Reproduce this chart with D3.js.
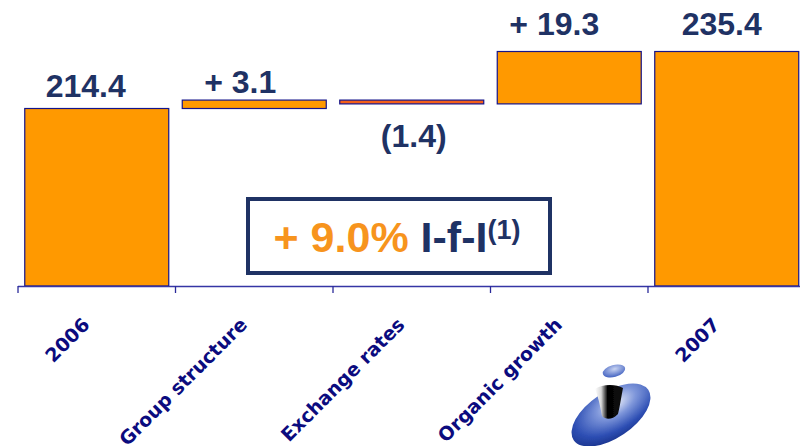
<!DOCTYPE html>
<html>
<head>
<meta charset="utf-8">
<script src="https://cdn.jsdelivr.net/npm/d3@7/dist/d3.min.js"></script>
<style>
  html, body { margin: 0; padding: 0; background: #ffffff; }
  svg { display: block; }
</style>
</head>
<body>
<svg id="chart" width="800" height="446"></svg>
<script>
// Revenue bridge 2006 -> 2007
const categories = ["2006", "Group structure", "Exchange rates", "Organic growth", "2007"];
const kinds      = ["total", "delta", "delta", "delta", "total"];
const values     = [214.4, 3.1, -1.4, 19.3, 235.4];
const valueLabels = ["214.4", "+ 3.1", "(1.4)", "+ 19.3", "235.4"];
const headline = { growth: "+ 9.0%", basis: "I-f-I", note: "(1)" };

// label placement tweaks (px) relative to each bar's centre / edge
const labelShiftX = [-11, -14, 2, -15, -5];
const labelGap    = [11.5, 7, 43, 16.5, 16.5];

const W = 800, H = 446;
const svg = d3.select("#chart");

const navy = "#1F3264";
const axisNavy = "#0B0B7E";
const orange = "#FF9900";
const negFill = "#F4601A";

// waterfall segments
let running = 0;
const segs = values.map((v, i) => {
  let lo, hi;
  if (kinds[i] === "total") { lo = null; hi = v; running = v; }
  else { const start = running; running = start + v; lo = Math.min(start, running); hi = Math.max(start, running); }
  return { cat: categories[i], v, lo, hi, kind: kinds[i], neg: v < 0, label: valueLabels[i], i };
});

const yMin = 149, yMax = 245;
const y = d3.scaleLinear().domain([yMin, yMax]).range([286, 286 - (yMax - yMin) * 2.714]);
const x = d3.scaleBand().domain(categories).range([18, 805.5])
  .paddingInner(0.0857).paddingOuter(0.0429);
const bw = x.bandwidth();
const gapHalf = (x.step() - bw) / 2;

// bars
svg.append("g").selectAll("rect").data(segs).join("rect")
  .attr("x", d => x(d.cat))
  .attr("width", bw)
  .attr("y", d => y(d.hi))
  .attr("height", d => (d.lo === null ? y.range()[0] : y(d.lo)) - y(d.hi))
  .attr("fill", d => d.neg ? negFill : orange)
  .attr("stroke", "#14148A")
  .attr("stroke-width", 1.2);

// category axis: baseline with ticks on band boundaries
const axisY = y.range()[0];
const bounds = categories.map(c => x(c) - gapHalf).concat([x(categories[categories.length - 1]) + bw + gapHalf]);
const ax = svg.append("g");
ax.append("line").attr("x1", bounds[0]).attr("x2", W).attr("y1", axisY + 0.5).attr("y2", axisY + 0.5)
  .attr("stroke", "#3535A5").attr("stroke-width", 1.3);
ax.selectAll("line.tick").data(bounds).join("line").attr("class", "tick")
  .attr("x1", d => d).attr("x2", d => d).attr("y1", axisY).attr("y2", axisY + 7)
  .attr("stroke", "#2A2A9A").attr("stroke-width", 1.3);

ax.selectAll("text").data(categories).join("text")
  .attr("transform", c => `translate(${x(c) + bw / 2 - 6},${axisY + 40}) rotate(-45)`)
  .attr("text-anchor", "end")
  .attr("font-family", "DejaVu Sans, Verdana, sans-serif")
  .attr("font-weight", "bold")
  .attr("font-size", 19)
  .attr("fill", axisNavy)
  .text(c => c);

// value labels
svg.append("g").selectAll("text").data(segs).join("text")
  .attr("x", d => x(d.cat) + bw / 2 + labelShiftX[d.i])
  .attr("y", d => d.neg ? y(d.lo) + labelGap[d.i] : y(d.hi) - labelGap[d.i])
  .attr("text-anchor", "middle")
  .attr("font-family", "Liberation Sans, Arial, sans-serif")
  .attr("font-weight", "bold")
  .attr("font-size", 32)
  .attr("fill", navy)
  .text(d => d.label);

// like-for-like growth callout
const box = svg.append("g");
box.append("rect").attr("x", 248).attr("y", 199).attr("width", 302).attr("height", 74)
  .attr("fill", "#ffffff").attr("stroke", navy).attr("stroke-width", 4);
const t = box.append("text").attr("x", 397).attr("y", 252).attr("text-anchor", "middle")
  .attr("font-family", "Liberation Sans, Arial, sans-serif").attr("font-weight", "bold").attr("font-size", 43);
t.append("tspan").attr("fill", "#F7941D").text(headline.growth + " ");
t.append("tspan").attr("fill", navy).text(headline.basis);
t.append("tspan").attr("fill", navy).attr("font-size", 27).attr("dy", -13).text(headline.note);

// corporate mark (stylised "i")
const defs = svg.append("defs");
const g1 = defs.append("radialGradient").attr("id", "disc").attr("cx", "62%").attr("cy", "35%").attr("r", "70%");
g1.append("stop").attr("offset", "0%").attr("stop-color", "#E4E9F8");
g1.append("stop").attr("offset", "35%").attr("stop-color", "#7E96DA");
g1.append("stop").attr("offset", "75%").attr("stop-color", "#2E4FB4");
g1.append("stop").attr("offset", "100%").attr("stop-color", "#1B3590");
const g2 = defs.append("radialGradient").attr("id", "dot").attr("cx", "55%").attr("cy", "35%").attr("r", "70%");
g2.append("stop").attr("offset", "0%").attr("stop-color", "#C9D4F2");
g2.append("stop").attr("offset", "100%").attr("stop-color", "#3A5BBE");
const g3 = defs.append("linearGradient").attr("id", "stem").attr("x1", "0").attr("x2", "1").attr("y1", "0").attr("y2", "0");
g3.append("stop").attr("offset", "0%").attr("stop-color", "#ffffff");
g3.append("stop").attr("offset", "22%").attr("stop-color", "#d8d8d8");
g3.append("stop").attr("offset", "45%").attr("stop-color", "#000000");
g3.append("stop").attr("offset", "100%").attr("stop-color", "#111111");
const filt = defs.append("filter").attr("id", "soft").attr("x", "-20%").attr("y", "-20%").attr("width", "140%").attr("height", "140%");
filt.append("feGaussianBlur").attr("stdDeviation", 0.6);

const logo = svg.append("g").attr("filter", "url(#soft)");
logo.append("ellipse").attr("cx", 611).attr("cy", 415).attr("rx", 45).attr("ry", 23)
  .attr("transform", "rotate(-34 611 415)").attr("fill", "url(#disc)");
logo.append("path")
  .attr("d", "M595,389 C602,384 616,384 623,388 C621,398 620,406 618,414 C612,420 606,420 602,416 C600,405 598,396 595,389 Z")
  .attr("fill", "url(#stem)");
logo.append("ellipse").attr("cx", 614).attr("cy", 371).attr("rx", 11.5).attr("ry", 6)
  .attr("transform", "rotate(-15 614 371)").attr("fill", "url(#dot)");
</script>
</body>
</html>
